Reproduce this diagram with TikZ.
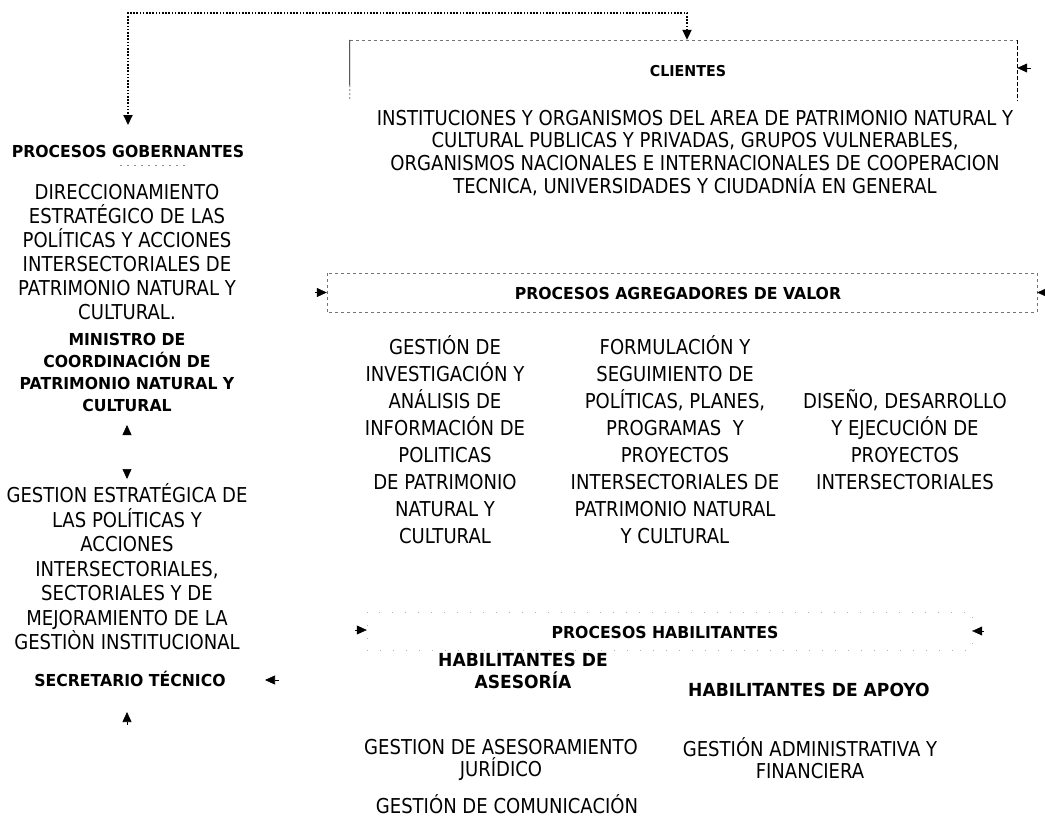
\documentclass[tikz,border=0pt]{standalone}
\usepackage{fontspec}
\setmainfont{DejaVu Sans}[FakeStretch=0.88]
\newfontfamily\bfam{DejaVu Sans}[FakeStretch=0.95]
\usetikzlibrary{arrows.meta,calc}
\tikzset{
  txt/.style={inner sep=0pt, align=center, anchor=north, execute at begin node=\strut},
  rtxt/.style={txt, font=\fontsize{20.5}{#1}\selectfont},
  btxt/.style={txt, font=\bfam\bfseries\fontsize{16.5}{#1}\selectfont},
  bone/.style={inner sep=0pt, anchor=base, font=\bfam\bfseries\fontsize{16.5}{19}\selectfont},
  rone/.style={inner sep=0pt, anchor=base, font=\fontsize{20.5}{24}\selectfont},
  ah/.style={-{Triangle[length=10pt,width=9pt]}, line width=0.6pt},
  hidden/.style={draw=white, line width=0.5pt, {Triangle[length=10pt,width=9pt,color=black]}-{Triangle[length=10pt,width=9pt,color=black]}},
  dotline/.style={line width=2pt, dash pattern=on 1.6pt off 1.6pt, {Triangle[length=10pt,width=9pt]}-{Triangle[length=10pt,width=9pt]}},
  faint/.style={draw=black!55, line width=0.5pt, dash pattern=on 3pt off 3pt},
  boxnode/.style={inner sep=0pt, draw=none}
}
\begin{document}
\begin{tikzpicture}[x=1pt,y=-1pt]
\useasboundingbox (0,0) rectangle (1045,820);

% ---------- boxes ----------
\node[boxnode, minimum width=667pt, minimum height=60pt] (cbox) at (683.5,70) {};
\node[boxnode, minimum width=710pt, minimum height=39pt] (abox) at (682,292.5) {};
\node[boxnode, minimum width=605pt, minimum height=38pt] (hbox) at (669.5,631) {};

\draw[faint] (cbox.north west) -- (cbox.north east);
\draw[line width=0.7pt] (cbox.north west) -- ($(cbox.north west)!0.75!(cbox.south west)$);
\draw[line width=0.5pt, dash pattern=on 2pt off 2pt] ($(cbox.north west)!0.75!(cbox.south west)$) -- (cbox.south west);
\draw[line width=0.6pt, dash pattern=on 4pt off 2pt] (cbox.north east) -- (cbox.south east);

\draw[faint] (abox.north west) rectangle (abox.south east);
\draw[draw=black!30, line width=0.4pt, dash pattern=on 1pt off 12pt] (hbox.north west) rectangle (hbox.south east);

% ---------- texts ----------
\node[bone, font=\bfam\bfseries\fontsize{15}{17}\selectfont] (cli) at (688,76.5) {CLIENTES};
\node[rtxt=22.7] (clitxt) at (695,109.6) {INSTITUCIONES Y ORGANISMOS DEL AREA DE PATRIMONIO NATURAL Y\\CULTURAL PUBLICAS Y PRIVADAS, GRUPOS VULNERABLES,\\ORGANISMOS NACIONALES E INTERNACIONALES DE COOPERACION\\TECNICA, UNIVERSIDADES Y CIUDADNÍA EN GENERAL};

\node[bone] (gob) at (128,157) {PROCESOS GOBERNANTES};
\node[rtxt=24] (dir) at (127,183.7) {DIRECCIONAMIENTO\\ESTRATÉGICO DE LAS\\POLÍTICAS Y ACCIONES\\INTERSECTORIALES DE\\PATRIMONIO NATURAL Y\\CULTURAL.};
\node[btxt=22] (min) at (127,332.6) {MINISTRO DE\\COORDINACIÓN DE\\PATRIMONIO NATURAL Y\\CULTURAL};
\node[rtxt=24.5] (ges) at (127,483.4) {GESTION ESTRATÉGICA DE\\LAS POLÍTICAS Y\\ACCIONES\\INTERSECTORIALES,\\SECTORIALES Y DE\\MEJORAMIENTO DE LA\\GESTIÒN INSTITUCIONAL};
\node[bone] (sec) at (130,686) {SECRETARIO TÉCNICO};

\node[bone] (agr) at (678,299) {PROCESOS AGREGADORES DE VALOR};
\node[rtxt=27] (c1) at (445,335.6) {GESTIÓN DE\\INVESTIGACIÓN Y\\ANÁLISIS DE\\INFORMACIÓN DE\\POLITICAS\\DE PATRIMONIO\\NATURAL Y\\CULTURAL};
\node[rtxt=27] (c2) at (675,335.6) {FORMULACIÓN Y\\SEGUIMIENTO DE\\POLÍTICAS, PLANES,\\PROGRAMAS\ \ Y\\PROYECTOS\\INTERSECTORIALES DE\\PATRIMONIO NATURAL\\Y CULTURAL};
\node[rtxt=27] (c3) at (905,389.6) {DISEÑO, DESARROLLO\\Y EJECUCIÓN DE\\PROYECTOS\\INTERSECTORIALES};

\node[bone] (hab) at (665,638) {PROCESOS HABILITANTES};
\node[btxt=22, font=\bfam\bfseries\fontsize{18}{22}\selectfont] (hase) at (523,653.1) {HABILITANTES DE\\ASESORÍA};
\node[bone, font=\bfam\bfseries\fontsize{18}{21}\selectfont] (hapo) at (809,696.5) {HABILITANTES DE APOYO};
\node[rtxt=22] (jur) at (501,739.1) {GESTION DE ASESORAMIENTO\\JURÍDICO};
\node[rtxt=22] (adm) at (810,737.1) {GESTIÓN ADMINISTRATIVA Y\\FINANCIERA};
\node[rone] (com) at (507,813) {GESTIÓN DE COMUNICACIÓN};

% ---------- connectors ----------
\coordinate (dL) at (128,13);
\coordinate (dR) at (687,13);
\coordinate (gT) at (128,125);
\draw[dotline] (cbox.north -| dR) -- (dR) -- (dL) -- (gT);

\coordinate (cR) at (1031,68);
\draw[ah] (cR) -- (cR -| cbox.east);

\coordinate (aL) at (315,292.5);
\coordinate (aR) at (1045,292.5);
\draw[ah] (aL) -- (abox.west);
\draw[ah] (aR) -- (abox.east);

\coordinate (hL) at (355,630);
\coordinate (hR) at (984,631);
\draw[ah] (hL) -- (hL -| hbox.west);
\draw[ah] (hR) -- (hbox.east);

\coordinate (m1) at (127,425);
\coordinate (g1) at (127,479);
\draw[hidden] (m1) -- (g1);

\coordinate (sR) at (279,680);
\coordinate (sT) at (265,680);
\draw[ah] (sR) -- (sT);

\coordinate (bU) at (127,725);
\coordinate (bT) at (127,712);
\draw[ah] (bU) -- (bT);

\coordinate (fa) at (120,165);
\coordinate (fb) at (185,165);
\draw[draw=black!45, line width=0.5pt, dash pattern=on 2pt off 5pt] (fa) -- (fb);
\end{tikzpicture}
\end{document}
